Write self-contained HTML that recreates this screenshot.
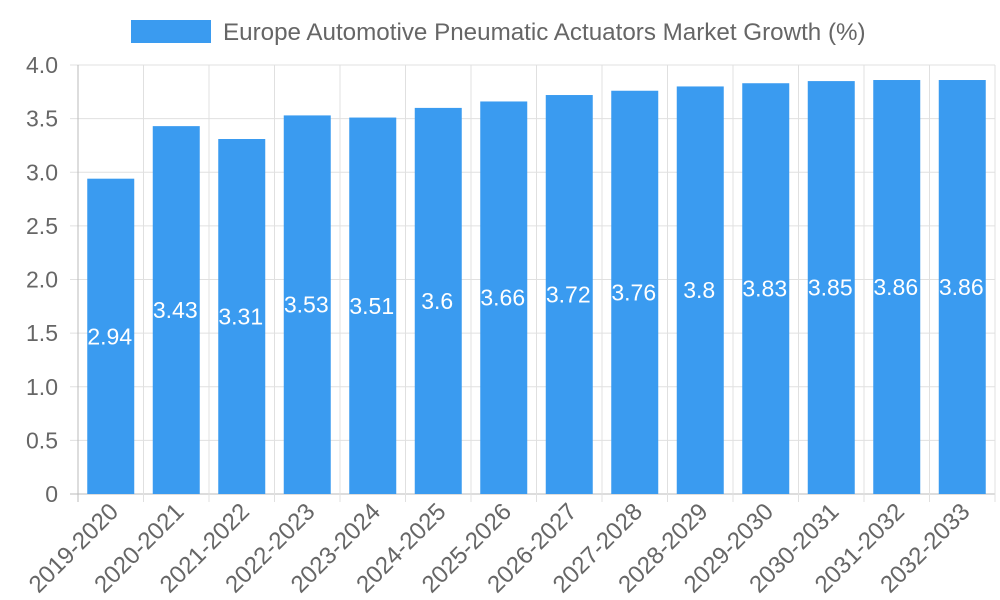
<!DOCTYPE html>
<html><head><meta charset="utf-8"><style>
body{margin:0;background:#fff;}
svg{display:block;font-family:"Liberation Sans",sans-serif;}
</style></head><body>
<svg id="chart" width="1000" height="600">
<g>
<rect x="131" y="20" width="80" height="23" fill="#3a9bf0"></rect>
<text x="223" y="40" font-size="24.2" fill="#666">Europe Automotive Pneumatic Actuators Market Growth (%)</text>
</g>
<g id="grid"></g><g id="bars"></g><g id="axes"></g>
</svg>
<script>
const categories=["2019-2020","2020-2021","2021-2022","2022-2023","2023-2024","2024-2025","2025-2026","2026-2027","2027-2028","2028-2029","2029-2030","2030-2031","2031-2032","2032-2033"];
const values=[2.94,3.43,3.31,3.53,3.51,3.6,3.66,3.72,3.76,3.8,3.83,3.85,3.86,3.86];
const yTicks=[0,0.5,1,1.5,2,2.5,3,3.5,4];
const yTickLabels=["0","0.5","1.0","1.5","2.0","2.5","3.0","3.5","4.0"];
const NS="http://www.w3.org/2000/svg";
const L=78,R=995,T=65,B=494,yMax=4;
const band=(R-L)/categories.length;
const y=v=>B-(v/yMax)*(B-T);
const x=i=>L+i*band;
function mk(tag,attrs,parent){const e=document.createElementNS(NS,tag);for(const k in attrs)e.setAttribute(k,attrs[k]);parent.appendChild(e);return e;}
const grid=document.getElementById('grid'),bars=document.getElementById('bars'),axes=document.getElementById('axes');
yTicks.forEach((t,i)=>{
  const ln=mk('line',{x1:L-8,x2:R,y1:y(t),y2:y(t),stroke:i==0?'#bbb':'#e0e0e0','stroke-width':1},grid);
  
  
  const tx=mk('text',{x:L-20,y:y(t)+8,'text-anchor':'end','font-size':23,fill:'#666'},axes);
  tx.textContent=yTickLabels[i];
  
  
});
for(let i=0;i<=categories.length;i++){
  const ln=mk('line',{x1:x(i),x2:x(i),y1:T,y2:B+8,stroke:i==0?'#bbb':'#e0e0e0','stroke-width':1},grid);
  
  
}
categories.forEach((c,i)=>{
  const bw=47,bx=x(i)+(band-bw)/2,top=y(values[i]);
  const r=mk('rect',{x:bx,y:top,width:bw,height:B-top,fill:'#3a9bf0'},bars);
  
  
  const vl=mk('text',{x:bx+bw/2-1,y:(top+B)/2+8,'text-anchor':'middle','font-size':23,fill:'#fff'},bars);
  vl.textContent=String(values[i]);
  
  
  const cx=x(i)+band/2+9,cy=B+19;
  const tl=mk('text',{x:cx,y:cy,'text-anchor':'end','font-size':24,fill:'#666',transform:`rotate(-45 ${cx} ${cy})`},axes);
  tl.textContent=c;
  
  
});
</script>
</body></html>
